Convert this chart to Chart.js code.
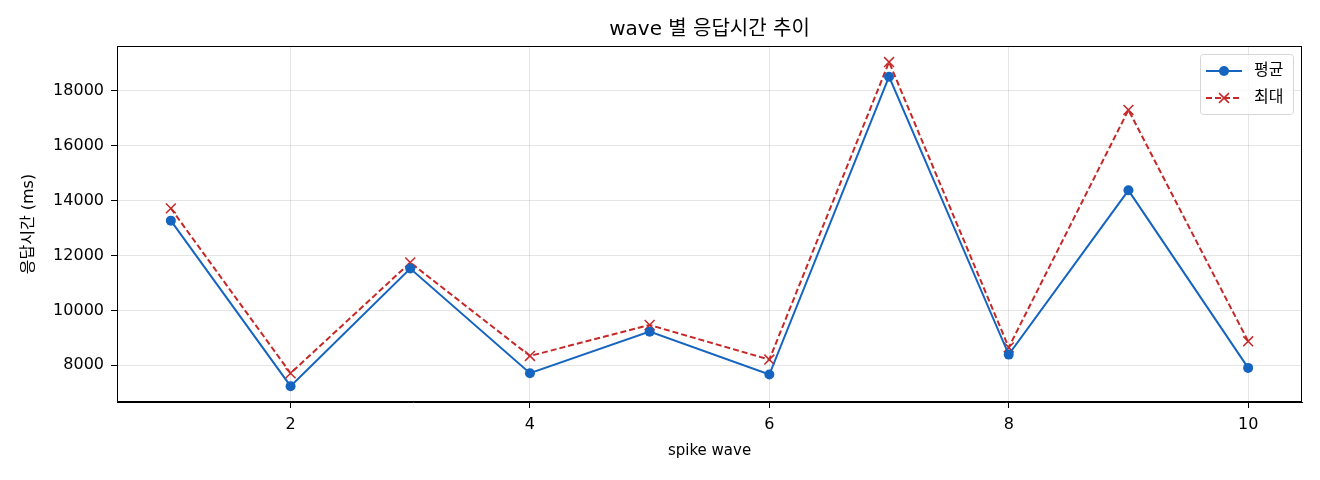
<!DOCTYPE html>
<html>
<head>
<meta charset="utf-8">
<script src="https://cdn.jsdelivr.net/npm/chart.js@4/dist/chart.umd.min.js"></script>
<style>
  html, body { margin: 0; padding: 0; background: #fff; }
  #wrap { width: 1320px; height: 480px; position: relative; }
</style>
</head>
<body>
<div id="wrap"><canvas id="waveChart"></canvas></div>
<script>
const waves = [1, 2, 3, 4, 5, 6, 7, 8, 9, 10];
const avgMs = [13273, 7236, 11527, 7709, 9224, 7661, 18521, 8388, 14378, 7903];
const maxMs = [13720, 7709, 11745, 8339, 9467, 8206, 19055, 8650, 17309, 8873];
const xTicks = [2, 4, 6, 8, 10];
const yTicks = [8000, 10000, 12000, 14000, 16000, 18000];
const chartTitle = 'wave 별 응답시간 추이';

const FONT = "'DejaVu Sans', 'Noto Sans CJK KR', sans-serif";
const BLUE = '#1565c0';
const RED = '#c62828';

// full black frame round the plot area, title centred over it
const frame = {
  id: 'frame',
  afterDraw(chart) {
    const { ctx, chartArea: a } = chart;
    ctx.save();
    ctx.strokeStyle = '#000';
    ctx.lineWidth = 1;
    ctx.strokeRect(a.left + 0.5, a.top + 0.5, a.right - a.left - 1, a.bottom - a.top - 1);
    ctx.fillStyle = '#000';
    ctx.font = '20px ' + FONT;
    ctx.textAlign = 'center';
    ctx.textBaseline = 'middle';
    ctx.fillText(chartTitle, (a.left + a.right) / 2, 30);
    ctx.restore();
  }
};

// matplotlib-style legend box in the upper right
const boxLegend = {
  id: 'boxLegend',
  afterDraw(chart) {
    const { ctx, chartArea: a } = chart;
    const w = 93, h = 60;
    const x = a.right - w - 9, y = a.top + 8;
    ctx.save();
    ctx.fillStyle = 'rgba(255,255,255,0.8)';
    ctx.strokeStyle = '#d6d6d6';
    ctx.lineWidth = 1;
    ctx.beginPath();
    ctx.roundRect(x + 0.5, y + 0.5, w, h, 3);
    ctx.fill();
    ctx.stroke();
    chart.data.datasets.forEach((ds, i) => {
      const cy = y + 17 + i * 27;
      const x0 = x + 6, x1 = x + 42, cx = (x0 + x1) / 2;
      ctx.strokeStyle = ds.borderColor;
      ctx.lineWidth = ds.borderWidth;
      ctx.setLineDash(ds.borderDash || []);
      ctx.beginPath();
      ctx.moveTo(x0, cy);
      ctx.lineTo(x1, cy);
      ctx.stroke();
      ctx.setLineDash([]);
      if (ds.pointStyle === 'circle') {
        ctx.fillStyle = ds.pointBackgroundColor;
        ctx.beginPath();
        ctx.arc(cx, cy, ds.pointRadius, 0, Math.PI * 2);
        ctx.fill();
      } else {
        const r = ds.pointRadius * 0.7;
        ctx.lineWidth = ds.pointBorderWidth;
        ctx.beginPath();
        ctx.moveTo(cx - r, cy - r);
        ctx.lineTo(cx + r, cy + r);
        ctx.moveTo(cx + r, cy - r);
        ctx.lineTo(cx - r, cy + r);
        ctx.stroke();
      }
      ctx.fillStyle = '#000';
      ctx.font = '16px ' + FONT;
      ctx.textBaseline = 'middle';
      ctx.fillText(ds.label, x + 54, cy);
    });
    ctx.restore();
  }
};

new Chart(document.getElementById('waveChart'), {
  type: 'line',
  data: {
    datasets: [
      {
        label: '평균',
        data: waves.map((w, i) => ({ x: w, y: avgMs[i] })),
        borderColor: BLUE,
        backgroundColor: BLUE,
        borderWidth: 2,
        pointStyle: 'circle',
        pointRadius: 5,
        pointBackgroundColor: BLUE,
        pointBorderColor: BLUE,
        pointBorderWidth: 0,
        tension: 0
      },
      {
        label: '최대',
        data: waves.map((w, i) => ({ x: w, y: maxMs[i] })),
        borderColor: RED,
        backgroundColor: RED,
        borderWidth: 2,
        borderDash: [6, 3],
        pointStyle: 'crossRot',
        pointRadius: 7,
        pointBorderColor: RED,
        pointBorderWidth: 1.5,
        tension: 0
      }
    ]
  },
  options: {
    responsive: true,
    maintainAspectRatio: false,
    animation: false,
    layout: { padding: { left: 0, right: 18, top: 46, bottom: 0 } },
    plugins: {
      legend: { display: false },
      tooltip: { enabled: false },
      title: { display: false }
    },
    scales: {
      x: {
        type: 'linear',
        min: 0.55,
        max: 10.45,
        afterBuildTicks: s => { s.ticks = xTicks.map(v => ({ value: v })); },
        afterFit: s => { s.height = 78; },
        grid: { color: 'rgba(0,0,0,0.1)', tickColor: '#000', tickLength: 6 },
        border: { color: '#000', width: 1 },
        ticks: {
          color: '#000', font: { family: FONT, size: 16 }, padding: 7, maxRotation: 0,
          callback: v => String(v)
        },
        title: {
          display: true,
          text: 'spike wave',
          color: '#000',
          font: { family: FONT, size: 15 },
          padding: { top: 0, bottom: 20 }
        }
      },
      y: {
        min: 6660,
        max: 19640,
        afterBuildTicks: s => { s.ticks = yTicks.map(v => ({ value: v })); },
        afterFit: s => { s.width = 117; },
        grid: { color: 'rgba(0,0,0,0.1)', tickColor: '#000', tickLength: 6 },
        border: { color: '#000', width: 1 },
        ticks: {
          color: '#000', font: { family: FONT, size: 16 }, padding: 7,
          callback: v => String(v)
        },
        title: {
          display: true,
          text: '응답시간 (ms)',
          color: '#000',
          font: { family: FONT, size: 16 },
          padding: { top: 19, bottom: 0 }
        }
      }
    }
  },
  plugins: [frame, boxLegend]
});
</script>
</body>
</html>
